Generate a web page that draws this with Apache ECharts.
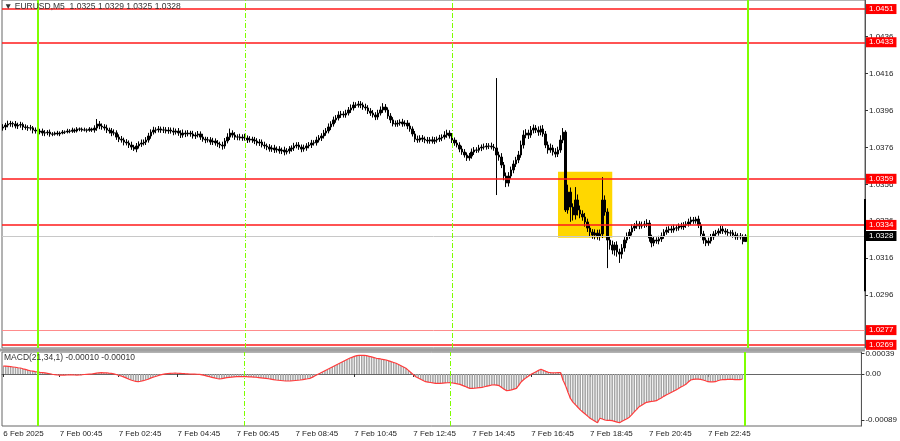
<!DOCTYPE html>
<html><head><meta charset="utf-8">
<script src="https://cdn.jsdelivr.net/npm/echarts@6/dist/echarts.min.js"></script>
<style>html,body{margin:0;padding:0;background:#fff}#c{width:900px;height:441px}</style>
</head><body><div id="c"></div>
<script>
// ---- data (EURUSD M5, 6 Feb 22:50 .. 7 Feb 23:55) ----
const firstOpen = 1.03865;
const closes = [
1.03871,1.03881,1.03887,1.03890,1.03887,1.03876,1.03881,1.03884,1.03871,1.03868,
1.03865,1.03866,1.03854,1.03849,1.03843,1.03849,1.03838,1.03839,1.03843,1.03833,
1.03832,1.03838,1.03833,1.03838,1.03843,1.03844,1.03849,1.03848,1.03854,1.03849,
1.03860,1.03859,1.03854,1.03855,1.03853,1.03860,1.03854,1.03865,1.03887,1.03876,
1.03871,1.03865,1.03854,1.03849,1.03838,1.03839,1.03816,1.03805,1.03800,1.03789,
1.03784,1.03773,1.03762,1.03751,1.03768,1.03778,1.03784,1.03789,1.03800,1.03822,
1.03843,1.03854,1.03855,1.03860,1.03854,1.03855,1.03849,1.03854,1.03849,1.03843,
1.03849,1.03838,1.03827,1.03838,1.03833,1.03838,1.03833,1.03822,1.03827,1.03833,
1.03816,1.03805,1.03800,1.03801,1.03789,1.03795,1.03784,1.03778,1.03773,1.03768,
1.03795,1.03816,1.03838,1.03827,1.03816,1.03817,1.03811,1.03816,1.03811,1.03800,
1.03805,1.03800,1.03795,1.03784,1.03789,1.03773,1.03768,1.03762,1.03751,1.03757,
1.03746,1.03751,1.03741,1.03746,1.03735,1.03741,1.03751,1.03757,1.03768,1.03773,
1.03762,1.03751,1.03757,1.03768,1.03773,1.03784,1.03785,1.03800,1.03811,1.03822,
1.03838,1.03849,1.03871,1.03887,1.03909,1.03919,1.03936,1.03941,1.03936,1.03946,
1.03963,1.03974,1.03990,1.03989,1.03995,1.03990,1.03979,1.03974,1.03957,1.03946,
1.03936,1.03925,1.03946,1.03963,1.03979,1.03963,1.03930,1.03909,1.03887,1.03888,
1.03892,1.03898,1.03887,1.03892,1.03876,1.03860,1.03833,1.03805,1.03800,1.03811,
1.03805,1.03800,1.03795,1.03801,1.03794,1.03800,1.03805,1.03811,1.03816,1.03827,
1.03838,1.03822,1.03800,1.03784,1.03773,1.03751,1.03735,1.03719,1.03703,1.03713,
1.03735,1.03746,1.03745,1.03757,1.03762,1.03763,1.03768,1.03767,1.03762,1.03757,
1.03719,1.03708,1.03665,1.03605,1.03567,1.03605,1.03638,1.03670,1.03692,1.03719,
1.03773,1.03827,1.03838,1.03827,1.03854,1.03865,1.03854,1.03843,1.03860,1.03833,
1.03773,1.03746,1.03757,1.03735,1.03724,1.03746,1.03800,1.03843,1.03421,1.03518,
1.03437,1.03394,1.03475,1.03421,1.03399,1.03383,1.03356,1.03323,1.03301,1.03285,
1.03296,1.03280,1.03291,1.03475,1.03410,1.03258,1.03231,1.03204,1.03231,1.03193,
1.03182,1.03215,1.03258,1.03280,1.03301,1.03323,1.03334,1.03345,1.03334,1.03339,
1.03345,1.03350,1.03269,1.03242,1.03258,1.03253,1.03264,1.03280,1.03301,1.03312,
1.03318,1.03312,1.03323,1.03324,1.03334,1.03329,1.03339,1.03345,1.03356,1.03367,
1.03361,1.03372,1.03339,1.03291,1.03258,1.03242,1.03253,1.03275,1.03291,1.03296,
1.03307,1.03318,1.03307,1.03301,1.03296,1.03297,1.03285,1.03275,1.03280,1.03275,
1.03250,1.03280];
// upper / lower shadow lengths in pips
const wickUp = [
1.5,1.2,1.8,1.4,1.0,1.6,1.3,1.5,1.1,1.4, 1.2,1.6,1.0,1.4,1.8,1.2,1.3,1.5,1.1,1.4,
1.0,0.8,1.2,0.9,1.1,0.8,1.2,1.0,1.3,0.9, 1.0,0.8,0.9,1.2,0.8,1.0,0.7,1.5,2.7,1.6,
1.4,1.5,1.8,1.3,1.6,1.9,1.4,1.5,1.7,1.3, 1.6,1.4,1.8,1.2,1.6,1.5,1.9,1.4,1.6,1.7,
1.5,1.8,1.4,1.6,1.3,1.7,1.5,1.6,1.4,1.8, 1.3,1.6,1.5,1.9,1.4,1.6,1.2,1.7,1.5,1.6,
1.4,1.8,1.3,1.6,1.5,1.7,1.4,1.6,1.3,1.8, 1.6,2.1,2.4,1.5,1.6,1.4,1.7,1.5,1.8,1.4,
1.6,1.3,1.7,1.5,1.6,1.4,1.8,1.3,1.6,1.5, 1.7,1.4,1.6,1.3,1.8,1.5,1.6,1.4,1.7,1.5,
1.6,1.4,1.8,1.5,1.6,1.7,1.4,1.8,1.6,1.5, 1.7,1.6,1.9,1.5,1.8,1.6,2.0,1.7,1.5,1.8,
1.6,1.9,1.7,1.5,1.7,1.6,1.4,1.8,1.5,1.6, 1.7,1.5,1.8,1.9,2.1,1.6,1.4,1.6,1.5,1.8,
1.6,1.4,1.7,1.5,1.6,1.8,1.4,1.6,1.9,1.5, 1.6,1.4,1.7,1.5,1.8,1.6,1.4,1.7,1.5,2.1,
1.8,1.5,1.6,1.4,1.7,1.5,1.8,1.6,1.4,1.7, 1.9,1.6,1.5,1.7,1.4,1.8,1.6,1.5,1.9,1.7,
37.9,1.8,2.1,1.6,1.9,2.1,1.8,2.0,1.7,2.2, 2.4,2.6,2.1,1.8,2.2,1.9,1.6,2.0,1.8,2.1,
1.6,1.9,2.4,1.7,2.1,1.8,2.6,2.2,1.0,4.0, 2.5,2.0,7.0,3.0,2.4,2.0,2.2,1.8,2.0,1.6,
2.0,1.8,2.4,12.4,2.5,2.0,1.8,2.4,1.6,2.0, 1.8,2.1,1.6,1.9,1.7,2.0,1.6,1.8,1.5,1.9,
1.7,2.1,1.6,1.8,2.0,1.5,1.7,1.9,1.6,1.8, 1.5,1.7,1.9,1.6,1.4,1.8,1.6,1.5,1.8,1.7,
1.6,1.2,1.8,1.5,1.7,1.4,1.8,1.6,1.5,1.7, 1.4,1.8,1.6,1.5,1.7,1.4,1.6,1.8,1.5,1.6,
1.4,1.0];
const wickDown = [
1.4,1.7,1.2,1.5,1.8,1.3,1.6,1.4,1.7,1.2, 1.5,1.3,1.8,1.4,1.6,1.2,1.5,1.7,1.3,1.5,
1.1,0.8,0.9,1.2,0.7,1.0,0.8,1.1,0.9,1.0, 0.8,1.1,0.9,0.7,1.2,0.8,1.0,1.4,1.5,1.7,
1.5,1.3,1.6,1.4,1.7,1.3,1.5,1.6,1.4,1.8, 1.3,1.6,1.5,1.0,1.7,1.4,1.5,1.3,1.6,1.4,
1.5,1.3,1.7,1.4,1.5,1.6,1.3,1.5,1.4,1.7, 1.3,1.5,1.6,1.4,1.7,1.3,1.5,1.4,1.6,1.3,
1.5,1.4,1.7,1.3,1.5,1.6,1.4,1.5,1.7,2.0, 1.5,1.3,1.6,1.4,1.5,1.7,1.3,1.5,1.4,1.6,
1.3,1.5,1.7,1.4,1.6,1.3,1.5,1.7,1.4,1.5, 1.6,1.4,1.5,1.7,1.8,1.3,1.5,1.4,1.6,1.3,
1.5,1.7,1.4,1.5,1.3,1.6,1.4,1.5,1.3,1.6, 1.4,1.5,1.3,1.7,1.4,1.5,1.3,1.6,1.4,1.5,
1.3,1.6,1.4,1.5,1.3,1.7,1.5,1.4,1.6,1.5, 1.4,1.7,1.5,1.3,1.6,1.4,1.5,1.7,1.3,1.5,
1.6,1.4,1.5,1.3,1.7,1.5,1.4,1.6,1.5,1.3, 1.5,1.7,1.4,1.5,1.3,1.6,1.4,1.5,1.7,1.3,
1.5,1.4,1.6,1.5,1.3,1.7,1.5,1.4,1.6,1.5, 1.4,1.6,1.5,1.3,1.7,1.4,1.5,1.6,1.3,1.5,
21.7,2.0,1.7,2.3,2.2,1.9,1.5,1.8,1.6,1.7, 1.5,1.9,1.7,2.1,1.5,1.8,1.6,2.0,1.7,1.5,
1.7,2.0,1.5,1.9,1.8,1.6,1.5,1.7,1.1,2.0, 8.0,3.0,2.5,3.0,2.3,2.0,2.5,2.1,2.7,2.0,
2.3,2.0,2.5,2.2,2.0,15.2,2.5,2.3,3.0,2.5, 4.8,2.5,2.0,1.7,1.5,1.8,1.6,1.5,1.7,1.4,
1.5,1.7,2.0,2.3,1.7,1.5,1.8,1.6,1.5,1.4, 1.6,1.5,1.4,1.7,1.5,1.3,1.6,1.5,1.4,1.7,
1.5,1.4,1.6,1.8,2.0,1.7,1.5,1.4,1.6,1.5, 1.4,1.5,1.6,1.3,1.5,1.7,1.4,1.5,1.6,1.4,
1.5,0.0];
// MACD(21,34,1) main value, in units of 0.00001
const macd = [
15,15,14.5,14,13.5,13,12,11.5,10,9,
7.5,6.3,5.5,4.5,3.8,3,2.5,2,1.3,0.5,
-0.5,-1.2,-1.9,-2,-2,-2,-1.9,-1.8,-1.8,-1.9,
-2,-1.9,-1.5,-1,-0.6,-0.3,0,0.8,1.5,2.2,
2.5,2.3,2,1.6,1.3,0.3,-1,-2.5,-3.8,-5.5,
-7.5,-9.5,-11.5,-13,-14.3,-14.8,-14,-12.9,-11.5,-10,
-8,-6.3,-4.8,-3.3,-1.8,-0.6,0.2,0.9,1.3,1.4,
1.5,1.4,1.3,1,0.6,0.3,0,-0.2,-0.3,-0.5,
-0.6,-1.6,-2.8,-4,-5.2,-6.4,-7.5,-8.6,-9.6,-9,
-8,-7.1,-6.5,-6,-5.5,-5.2,-5.1,-5.1,-5.2,-5.2,
-5.4,-5.7,-6,-6.3,-6.8,-7.3,-7.8,-8.3,-9.1,-9.9,
-10.7,-11.5,-12,-12.5,-13,-13.5,-13.5,-13.3,-13,-12.5,
-12,-11.5,-10.8,-10,-9.2,-8.3,-6,-3.5,-1,1.3,
3.7,6.1,8.5,11,13.4,15.8,18.2,20.6,23,25.4,
27.8,30.2,32,33.8,35.2,35.8,36,35.8,35.2,34,
32.8,31.5,30.2,29.4,28.5,27.7,26.9,25.3,23.7,22.2,
20.6,18.2,15.8,13.4,11,6.9,2.8,-1.2,-5.2,-7.6,
-10,-12.4,-14.8,-15.6,-16.4,-17.2,-17.9,-18,-18,-17.6,
-17.2,-16.8,-16.5,-17.3,-18.1,-19,-19.9,-21.8,-23.7,-25.7,
-27.6,-27.5,-27.2,-26.8,-26.2,-25.6,-24.5,-23.4,-22.3,-21.2,
-21,-21.5,-22.5,-26,-29.5,-32,-31.5,-30.5,-29,-27.6,
-21.5,-14.8,-10.5,-7,-3.8,-0.5,2,4.5,7,9,
7,5,3.2,2.5,2.3,2.4,2.6,2.5,-12,-22,
-35,-47,-54,-59,-64,-69,-73,-77,-81,-85,
-88,-91,-93.6,-85,-86.5,-88.5,-89,-89.3,-89.7,-91,
-92.5,-93.6,-91,-88.5,-86,-83,-78,-73,-68,-62.8,
-60,-57,-54.5,-53.5,-52.5,-52,-51.3,-48.5,-46,-43,
-40.4,-38,-35.5,-33,-30.8,-28,-25,-22.5,-19.9,-15.5,
-11.5,-10.5,-10,-10,-10.2,-11.5,-13,-14.8,-15,-15,
-14.8,-13,-11.5,-11,-10.7,-10.4,-10.2,-10.5,-10.8,-11,
-11,-10];
const levels = [1.0451, 1.0433, 1.0359, 1.0334, 1.0277, 1.0269];
const lastPrice = 1.0328;
const priceTicks = [1.0296, 1.0316, 1.0336, 1.0356, 1.0376, 1.0396, 1.0416, 1.0436];
const macdTicks = [0.00039, 0, -0.00089];
const firstLabel = '6 Feb 2025';
const xTickLabels = ['7 Feb 00:45','7 Feb 02:45','7 Feb 04:45','7 Feb 06:45','7 Feb 08:45','7 Feb 10:45',
  '7 Feb 12:45','7 Feb 14:45','7 Feb 16:45','7 Feb 18:45','7 Feb 20:45','7 Feb 22:45'];
const dayLines = ['7 Feb 00:00', '8 Feb 00:00'];
const sessionLines = ['7 Feb 07:00', '7 Feb 14:00'];
const boxFrom = '7 Feb 17:35', boxTo = '7 Feb 19:25', boxTop = 1.03628, boxBottom = 1.03271;
const dayRange = [1.0298, 1.0348];
const titleText = '\u25BC EURUSD,M5  1.0325 1.0329 1.0325 1.0328';
const macdText = 'MACD(21,34,1) -0.00010 -0.00010';

// ---- build ----
const cats = [];
for (let i = 0; i < 350; i++) {
  const t = 1370 + 5 * i;
  const d = 6 + Math.floor(t / 1440);
  const m = t % 1440;
  cats.push(d + ' Feb ' + String(Math.floor(m / 60)).padStart(2, '0') + ':' + String(m % 60).padStart(2, '0'));
}
const ohlc = closes.map((c, i) => {
  const o = i === 0 ? firstOpen : closes[i - 1];
  return [o, c, Math.min(o, c) - wickDown[i] * 1e-4, Math.max(o, c) + wickUp[i] * 1e-4];
});
const macdVals = macd.map(v => v * 1e-5);
const FONT = 'Liberation Sans';
const labelInterval = (idx, val) => idx === 0 || xTickLabels.indexOf(val) >= 0;

const vLines = () => {
  const out = [];
  dayLines.forEach(d => out.push({xAxis: d, lineStyle: {color: '#7fff00', width: 2, type: 'solid'}, label: {show: false}}));
  sessionLines.forEach(d => out.push({xAxis: d, lineStyle: {color: '#7fff00', width: 1, type: [5, 2, 1, 2]}, label: {show: false}}));
  return out;
};

const priceLabel = (txt, bg) => ({show: true, position: 'end', formatter: txt, backgroundColor: bg, color: '#fff',
  fontSize: 8, fontFamily: FONT, padding: [1, 3, 1, 3], distance: 1});
const hLines = levels.map(lv => ({
  yAxis: lv,
  lineStyle: {color: lv === 1.0277 ? '#ff8c8c' : '#ff1a1a', width: lv === 1.0277 ? 1 : 1.5, type: 'solid'},
  label: priceLabel(lv.toFixed(4), '#ff0000')
}));
hLines.unshift({yAxis: lastPrice, lineStyle: {color: '#c8c8c8', width: 1, type: 'solid'},
  label: priceLabel(lastPrice.toFixed(4), '#000000')});

const chart = echarts.init(document.getElementById('c'), null, {renderer: 'canvas'});
chart.setOption({
  animation: false,
  backgroundColor: '#ffffff',
  grid: [
    {left: 2, right: 35, top: 0, height: 348, show: true, borderColor: '#666', borderWidth: 1},
    {left: 2, right: 35, top: 352, height: 74, show: true, borderColor: '#666', borderWidth: 1}
  ],
  xAxis: [
    {type: 'category', gridIndex: 0, data: cats, boundaryGap: true, axisLine: {show: false},
      axisTick: {show: false}, axisLabel: {show: false}, splitLine: {show: false}},
    {type: 'category', gridIndex: 1, data: cats, boundaryGap: true,
      axisLine: {show: true, lineStyle: {color: '#666'}},
      axisTick: {show: true, interval: labelInterval, alignWithLabel: true, length: 3, lineStyle: {color: '#333'}},
      axisLabel: {interval: labelInterval, formatter: (v, i) => i === 0 ? firstLabel : v, align: 'left',
        margin: 4, fontSize: 8, color: '#222', fontFamily: FONT},
      splitLine: {show: false}}
  ],
  yAxis: [
    {type: 'value', gridIndex: 0, position: 'right', min: 1.02673, max: 1.04559,
      axisLine: {show: true, lineStyle: {color: '#555'}},
      axisTick: {show: true, length: 3, customValues: priceTicks, lineStyle: {color: '#333'}},
      axisLabel: {customValues: priceTicks, formatter: v => v.toFixed(4), margin: 4, fontSize: 8, color: '#222', fontFamily: FONT},
      splitLine: {show: false}},
    {type: 'value', gridIndex: 1, position: 'right', min: -0.001, max: 0.000423,
      axisLine: {show: true, lineStyle: {color: '#555'}},
      axisTick: {show: true, length: 3, customValues: macdTicks, lineStyle: {color: '#333'}},
      axisLabel: {customValues: macdTicks, formatter: v => Math.abs(v) < 1e-12 ? '0.00' : v.toFixed(5),
        margin: 4, fontSize: 8, color: '#222', fontFamily: FONT},
      splitLine: {show: false}}
  ],
  series: [
    {type: 'candlestick', xAxisIndex: 0, yAxisIndex: 0, data: ohlc, barWidth: 2,
      itemStyle: {color: '#000000', color0: '#000000', borderColor: '#000000', borderColor0: '#000000', borderWidth: 1},
      markArea: {silent: true, itemStyle: {color: '#ffd700', opacity: 1},
        data: [[{xAxis: boxFrom, yAxis: boxTop}, {xAxis: boxTo, yAxis: boxBottom}]]},
      markLine: {silent: true, precision: 6, symbol: ['none', 'none'], animation: false, data: hLines.concat(vLines())}},
    {type: 'bar', xAxisIndex: 1, yAxisIndex: 1, data: macdVals, barWidth: 1.5, itemStyle: {color: '#a4a4a4'},
      markLine: {silent: true, symbol: ['none', 'none'], animation: false, data: vLines()}},
    {type: 'line', xAxisIndex: 1, yAxisIndex: 1, data: macdVals, symbol: 'none', z: 4,
      lineStyle: {color: '#ff3b3b', width: 1.2}}
  ]
});

const yTop = chart.convertToPixel({yAxisIndex: 0}, dayRange[1]);
const yBot = chart.convertToPixel({yAxisIndex: 0}, dayRange[0]);
chart.setOption({
  graphic: [
    {type: 'rect', z: 100, shape: {x: 0, y: 348.5, width: 865, height: 3}, style: {fill: '#a0a0a0'}},
    {type: 'rect', z: 100, shape: {x: 864, y: yTop, width: 2, height: yBot - yTop}, style: {fill: '#000'}},
    {type: 'text', z: 100, x: 4, y: 2, style: {text: titleText, font: '8.5px "Liberation Sans", "DejaVu Sans"', fill: '#333'}},
    {type: 'text', z: 100, x: 4, y: 353, style: {text: macdText, font: '8.5px "Liberation Sans"', fill: '#333'}}
  ]
});
</script>
</body></html>
